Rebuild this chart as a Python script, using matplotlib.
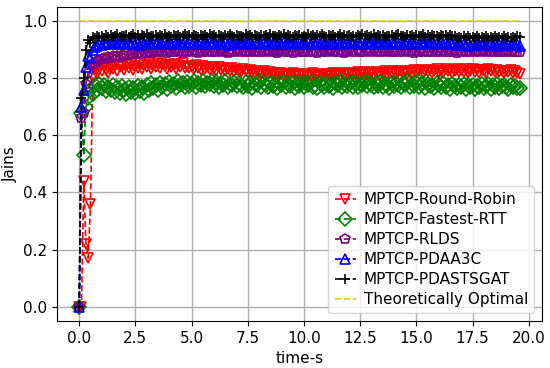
import numpy as np
import matplotlib
matplotlib.use("Agg")
import matplotlib.pyplot as plt

t = np.arange(0, 19.65, 0.1)

round_robin = [
    0.000, 0.000, 0.440, 0.220, 0.170, 0.360, 0.800, 0.835, 0.815, 0.840,
    0.825, 0.845, 0.830, 0.820, 0.840, 0.832, 0.848, 0.826, 0.838, 0.843,
    0.830, 0.846, 0.835, 0.850, 0.828, 0.842, 0.836, 0.852, 0.833, 0.845,
    0.840, 0.852, 0.832, 0.847, 0.838, 0.855, 0.836, 0.849, 0.842, 0.834,
    0.845, 0.838, 0.850, 0.833, 0.846, 0.840, 0.852, 0.835, 0.843, 0.837,
    0.841, 0.832, 0.846, 0.836, 0.829, 0.843, 0.834, 0.840, 0.828, 0.838,
    0.832, 0.826, 0.838, 0.830, 0.835, 0.824, 0.833, 0.827, 0.836, 0.822,
    0.830, 0.825, 0.821, 0.832, 0.826, 0.819, 0.829, 0.823, 0.817, 0.827,
    0.820, 0.815, 0.825, 0.818, 0.812, 0.822, 0.816, 0.810, 0.820, 0.814,
    0.818, 0.811, 0.816, 0.808, 0.814, 0.819, 0.810, 0.815, 0.807, 0.813,
    0.809, 0.815, 0.806, 0.812, 0.817, 0.808, 0.813, 0.805, 0.811, 0.816,
    0.810, 0.814, 0.807, 0.818, 0.811, 0.815, 0.809, 0.820, 0.812, 0.816,
    0.813, 0.819, 0.810, 0.816, 0.822, 0.812, 0.818, 0.814, 0.821, 0.815,
    0.819, 0.813, 0.823, 0.817, 0.812, 0.820, 0.826, 0.815, 0.822, 0.818,
    0.824, 0.816, 0.821, 0.827, 0.818, 0.823, 0.815, 0.825, 0.820, 0.828,
    0.819, 0.824, 0.830, 0.817, 0.826, 0.821, 0.829, 0.818, 0.825, 0.831,
    0.822, 0.827, 0.819, 0.832, 0.824, 0.828, 0.820, 0.826, 0.833, 0.821,
    0.829, 0.823, 0.831, 0.818, 0.826, 0.834, 0.822, 0.828, 0.820, 0.830,
    0.825, 0.819, 0.832, 0.824, 0.828, 0.821, 0.830, 0.823, 0.827, 0.818,
    0.826, 0.822, 0.829, 0.820, 0.825, 0.819, 0.815,
]

fastest_rtt = [
    0.000, 0.680, 0.530, 0.700, 0.730, 0.760, 0.745, 0.775, 0.760, 0.780,
    0.765, 0.778, 0.755, 0.770, 0.760, 0.775, 0.752, 0.768, 0.748, 0.772,
    0.758, 0.745, 0.770, 0.752, 0.765, 0.748, 0.773, 0.757, 0.768, 0.750,
    0.775, 0.760, 0.782, 0.765, 0.778, 0.758, 0.785, 0.770, 0.780, 0.763,
    0.786, 0.772, 0.780, 0.766, 0.790, 0.775, 0.783, 0.768, 0.788, 0.774,
    0.781, 0.792, 0.770, 0.785, 0.776, 0.789, 0.772, 0.784, 0.779, 0.791,
    0.774, 0.786, 0.770, 0.783, 0.777, 0.790, 0.768, 0.781, 0.775, 0.788,
    0.772, 0.784, 0.778, 0.769, 0.787, 0.774, 0.782, 0.766, 0.780, 0.776,
    0.789, 0.771, 0.783, 0.777, 0.768, 0.785, 0.773, 0.780, 0.765, 0.782,
    0.776, 0.788, 0.770, 0.781, 0.774, 0.786, 0.767, 0.779, 0.772, 0.784,
    0.769, 0.782, 0.775, 0.787, 0.771, 0.778, 0.765, 0.783, 0.776, 0.770,
    0.785, 0.772, 0.780, 0.767, 0.784, 0.775, 0.789, 0.770, 0.781, 0.774,
    0.779, 0.786, 0.771, 0.783, 0.768, 0.780, 0.775, 0.788, 0.772, 0.782,
    0.776, 0.769, 0.784, 0.773, 0.787, 0.770, 0.781, 0.777, 0.766, 0.783,
    0.772, 0.785, 0.778, 0.768, 0.782, 0.775, 0.789, 0.771, 0.780, 0.774,
    0.786, 0.770, 0.779, 0.784, 0.767, 0.781, 0.773, 0.778, 0.765, 0.782,
    0.775, 0.768, 0.783, 0.771, 0.778, 0.764, 0.780, 0.772, 0.766, 0.777,
    0.769, 0.781, 0.763, 0.775, 0.770, 0.778, 0.762, 0.774, 0.768, 0.780,
    0.766, 0.773, 0.779, 0.764, 0.776, 0.769, 0.781, 0.765, 0.772, 0.777,
    0.770, 0.763, 0.775, 0.768, 0.772, 0.766, 0.765,
]

rlds = [
    0.000, 0.660, 0.680, 0.780, 0.820, 0.845, 0.850, 0.855, 0.860, 0.865,
    0.868, 0.872, 0.866, 0.875, 0.870, 0.878, 0.874, 0.880, 0.876, 0.882,
    0.879, 0.885, 0.881, 0.887, 0.884, 0.889, 0.886, 0.890, 0.887, 0.892,
    0.889, 0.894, 0.890, 0.896, 0.891, 0.893, 0.897, 0.892, 0.895, 0.890,
    0.896, 0.891, 0.894, 0.898, 0.892, 0.895, 0.890, 0.897, 0.893, 0.896,
    0.892, 0.897, 0.894, 0.890, 0.896, 0.893, 0.898, 0.891, 0.895, 0.894,
    0.897, 0.892, 0.895, 0.899, 0.893, 0.896, 0.890, 0.894, 0.898, 0.892,
    0.895, 0.899, 0.893, 0.896, 0.891, 0.897, 0.894, 0.898, 0.892, 0.895,
    0.893, 0.897, 0.891, 0.895, 0.899, 0.892, 0.896, 0.894, 0.890, 0.897,
    0.896, 0.892, 0.898, 0.893, 0.895, 0.890, 0.897, 0.894, 0.899, 0.892,
    0.894, 0.898, 0.891, 0.896, 0.893, 0.897, 0.890, 0.895, 0.892, 0.898,
    0.891, 0.895, 0.899, 0.893, 0.896, 0.892, 0.897, 0.894, 0.890, 0.896,
    0.897, 0.893, 0.896, 0.891, 0.898, 0.894, 0.892, 0.897, 0.895, 0.891,
    0.895, 0.899, 0.892, 0.896, 0.893, 0.897, 0.891, 0.895, 0.898, 0.894,
    0.892, 0.896, 0.894, 0.899, 0.891, 0.895, 0.897, 0.893, 0.896, 0.890,
    0.896, 0.893, 0.898, 0.892, 0.895, 0.891, 0.897, 0.894, 0.899, 0.893,
    0.895, 0.891, 0.896, 0.893, 0.898, 0.892, 0.894, 0.897, 0.890, 0.895,
    0.893, 0.897, 0.891, 0.896, 0.894, 0.898, 0.892, 0.895, 0.891, 0.896,
    0.898, 0.892, 0.895, 0.893, 0.897, 0.891, 0.896, 0.894, 0.892, 0.897,
    0.893, 0.896, 0.891, 0.895, 0.894, 0.892, 0.893,
]

pdaa3c = [
    0.000, 0.700, 0.760, 0.840, 0.880, 0.870, 0.900, 0.910, 0.915, 0.920,
    0.918, 0.925, 0.921, 0.927, 0.919, 0.924, 0.928, 0.920, 0.926, 0.922,
    0.924, 0.919, 0.927, 0.922, 0.929, 0.920, 0.925, 0.918, 0.926, 0.923,
    0.921, 0.927, 0.919, 0.925, 0.922, 0.928, 0.920, 0.924, 0.926, 0.919,
    0.926, 0.921, 0.928, 0.923, 0.919, 0.925, 0.922, 0.929, 0.920, 0.924,
    0.922, 0.928, 0.920, 0.925, 0.927, 0.921, 0.924, 0.919, 0.926, 0.923,
    0.927, 0.920, 0.924, 0.929, 0.921, 0.926, 0.918, 0.925, 0.922, 0.928,
    0.920, 0.925, 0.922, 0.927, 0.919, 0.924, 0.928, 0.921, 0.926, 0.923,
    0.925, 0.919, 0.926, 0.922, 0.928, 0.920, 0.924, 0.927, 0.921, 0.925,
    0.922, 0.927, 0.920, 0.925, 0.923, 0.929, 0.921, 0.924, 0.926, 0.919,
    0.924, 0.921, 0.928, 0.922, 0.926, 0.919, 0.925, 0.923, 0.927, 0.920,
    0.926, 0.922, 0.925, 0.928, 0.920, 0.924, 0.921, 0.927, 0.923, 0.925,
    0.921, 0.927, 0.923, 0.919, 0.926, 0.922, 0.928, 0.920, 0.925, 0.924,
    0.927, 0.920, 0.925, 0.922, 0.928, 0.921, 0.924, 0.926, 0.919, 0.925,
    0.923, 0.926, 0.920, 0.927, 0.922, 0.925, 0.929, 0.921, 0.924, 0.922,
    0.925, 0.921, 0.928, 0.923, 0.926, 0.920, 0.924, 0.927, 0.922, 0.925,
    0.920, 0.926, 0.922, 0.925, 0.921, 0.927, 0.923, 0.924, 0.917, 0.920,
    0.916, 0.921, 0.918, 0.923, 0.915, 0.920, 0.917, 0.922, 0.916, 0.919,
    0.921, 0.916, 0.919, 0.923, 0.917, 0.920, 0.915, 0.922, 0.918, 0.921,
    0.917, 0.920, 0.916, 0.921, 0.918, 0.919, 0.912,
]

pdastsgat = [
    0.000, 0.730, 0.800, 0.900, 0.935, 0.925, 0.945, 0.940, 0.950, 0.945,
    0.948, 0.942, 0.951, 0.946, 0.953, 0.944, 0.949, 0.954, 0.945, 0.950,
    0.947, 0.953, 0.944, 0.950, 0.955, 0.946, 0.951, 0.943, 0.952, 0.948,
    0.954, 0.945, 0.950, 0.947, 0.953, 0.944, 0.951, 0.949, 0.955, 0.946,
    0.950, 0.944, 0.952, 0.948, 0.953, 0.945, 0.950, 0.955, 0.947, 0.951,
    0.946, 0.952, 0.949, 0.944, 0.953, 0.948, 0.951, 0.945, 0.954, 0.947,
    0.951, 0.945, 0.953, 0.948, 0.944, 0.952, 0.947, 0.955, 0.949, 0.946,
    0.953, 0.947, 0.950, 0.944, 0.954, 0.948, 0.952, 0.945, 0.951, 0.949,
    0.945, 0.953, 0.948, 0.951, 0.946, 0.954, 0.947, 0.950, 0.944, 0.952,
    0.948, 0.955, 0.946, 0.951, 0.949, 0.944, 0.953, 0.947, 0.952, 0.945,
    0.950, 0.946, 0.954, 0.948, 0.952, 0.945, 0.951, 0.947, 0.955, 0.949,
    0.944, 0.952, 0.947, 0.953, 0.946, 0.950, 0.954, 0.945, 0.951, 0.948,
    0.953, 0.946, 0.950, 0.944, 0.952, 0.948, 0.955, 0.947, 0.951, 0.945,
    0.949, 0.954, 0.946, 0.951, 0.947, 0.953, 0.945, 0.950, 0.948, 0.952,
    0.946, 0.951, 0.954, 0.947, 0.950, 0.945, 0.953, 0.948, 0.951, 0.946,
    0.952, 0.947, 0.950, 0.955, 0.946, 0.951, 0.944, 0.953, 0.948, 0.950,
    0.945, 0.952, 0.948, 0.951, 0.946, 0.953, 0.947, 0.950, 0.943, 0.946,
    0.941, 0.947, 0.943, 0.948, 0.940, 0.945, 0.942, 0.947, 0.941, 0.946,
    0.943, 0.948, 0.940, 0.945, 0.942, 0.947, 0.941, 0.946, 0.943, 0.948,
    0.942, 0.946, 0.940, 0.945, 0.943, 0.947, 0.944,
]

optimal_value = 1.0

labels = ["MPTCP-Round-Robin", "MPTCP-Fastest-RTT", "MPTCP-RLDS",
          "MPTCP-PDAA3C", "MPTCP-PDASTSGAT", "Theoretically Optimal"]
xticks = [0.0, 2.5, 5.0, 7.5, 10.0, 12.5, 15.0, 17.5, 20.0]
yticks = [0.0, 0.2, 0.4, 0.6, 0.8, 1.0]

plt.rcParams['font.family'] = ['DejaVu Sans']
fig = plt.figure(figsize=(5.5, 3.68), dpi=100)
ax = fig.add_axes([0.104, 0.128, 0.881, 0.853])

styles = [
    (round_robin, 'red', 'v'),
    (fastest_rtt, 'green', 'D'),
    (rlds, 'purple', 'p'),
    (pdaa3c, 'blue', '^'),
    (pdastsgat, 'black', '+'),
]
for (vals, col, mk), lab in zip(styles, labels):
    ax.plot(t, vals, linestyle='--', color=col, marker=mk, markersize=7.5,
            markerfacecolor='none', markeredgewidth=1.2, linewidth=1.2,
            label=lab)
ax.plot(t, np.full(len(t), optimal_value), linestyle='--', color='#d4d400',
        linewidth=1.2, label=labels[5])

ax.set_xticks(xticks)
ax.set_yticks(yticks)
ax.tick_params(labelsize=11)
ax.grid(True, color='#b0b0b0', linewidth=1.0)
ax.set_axisbelow(True)
ax.set_xlabel("time-s", fontsize=11)
ax.set_ylabel("Jains", fontsize=11)
ax.legend(loc='lower right', fontsize=11, handlelength=1.4,
          labelspacing=0.33, handletextpad=0.5, borderaxespad=0.5)

fig.savefig("out.png", dpi=100)
